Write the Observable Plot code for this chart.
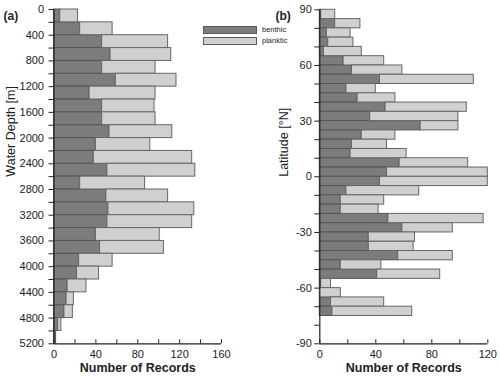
<!DOCTYPE html>
<html><head><meta charset="utf-8">
<script src="https://cdn.jsdelivr.net/npm/d3@7"></script>
<script src="https://cdn.jsdelivr.net/npm/@observablehq/plot@0.6"></script>
<style>
body{margin:0;background:#fff;font-family:"Liberation Sans",Arial,sans-serif;}
#wrap{position:relative;width:500px;height:383px;overflow:hidden;background:#fff;}
#pa,#pb{position:absolute;top:0;}
#pa{left:0}#pb{left:250px}
.sw{position:absolute;box-sizing:border-box;border:1px solid #5a5a5a;}
.lt{position:absolute;font-size:7.5px;color:#222;line-height:8px;}
</style></head>
<body><div id="wrap"><div id="pa"></div><div id="pb"></div>
<div id="legend"></div></div>
<script>
// ---- Panel (a): records by water depth (200 m bins) ----
const depthBinStart = [0,200,400,600,800,1000,1200,1400,1600,1800,2000,2200,2400,2600,2800,3000,3200,3400,3600,3800,4000,4200,4400,4600,4800,5000];
const benthicByDepth = [6,25,46,54,46,59,34,46,46,53,40,38,51,25,50,52,51,40,44,24,22,13,12,10,4,2];
const plankticByDepth = [17,31,63,58,51,58,63,50,51,60,52,94,84,62,59,82,81,61,61,32,21,18,7,8,3,0];
const depthTicks = [0,200,400,600,800,1000,1200,1400,1600,1800,2000,2200,2400,2600,2800,3000,3200,3400,3600,3800,4000,4200,4400,4600,4800,5000,5200];
const depthTickLabels = [0,400,800,1200,1600,2000,2400,2800,3200,3600,4000,4400,4800,5200];
const countTicksA = [0,20,40,60,80,100,120,140,160];
const countLabelsA = [0,40,80,120,160];

// ---- Panel (b): records by latitude (5° bins) ----
const latBinStart = [85,80,75,70,65,60,55,50,45,40,35,30,25,20,15,10,5,0,-5,-10,-15,-20,-25,-30,-35,-40,-45,-50,-55,-60,-65,-70,-75];
const benthicByLat = [1,11,5,6,3,17,23,43,19,27,47,36,72,30,23,22,57,48,43,19,15,15,49,59,35,35,56,15,41,1,0,8,9];
const plankticByLat = [10,18,17,18,27,29,36,67,21,27,58,63,27,24,25,40,49,72,77,52,31,27,68,36,33,32,39,29,45,7,15,38,57];
const latTicks = [-90,-80,-70,-60,-50,-40,-30,-20,-10,0,10,20,30,40,50,60,70,80,90];
const latTickLabels = [-90,-60,-30,0,30,60,90];
const countTicksB = [0,20,40,60,80,100,120];
const countLabelsB = [0,40,80,120];

const seriesNames = ["benthic","planktic"];
const DARK = "#7c7c7c", LIGHT = "#d0d0d0", EDGE = "#555555", AXIS = "#222222";

function rowsFor(starts, bw, benthic, planktic) {
  const rows = [];
  starts.forEach((s, i) => {
    rows.push({type: "benthic", y1: s, y2: s + bw, x1: 0, x2: benthic[i]});
    rows.push({type: "planktic", y1: s, y2: s + bw, x1: benthic[i], x2: benthic[i] + planktic[i]});
  });
  return rows;
}

function panel(o) {
  const H = 383, mt = o.mt, mb = 383 - 343.3;
  const innerH = H - mt - mb;
  return Plot.plot({
    width: 250, height: H,
    marginLeft: o.ml, marginRight: o.mr, marginTop: mt, marginBottom: mb,
    style: {fontSize: "11px", fontFamily: "'Liberation Sans', Arial, sans-serif", color: AXIS, background: "white", overflow: "visible"},
    x: {domain: o.xDomain},
    y: {domain: o.yDomain, reverse: o.reverse},
    marks: [
      Plot.rect(o.rows.filter(d => d.type === "benthic"), {x1: "x1", x2: "x2", y1: "y1", y2: "y2", fill: DARK, stroke: EDGE, strokeWidth: 1}),
      Plot.rect(o.rows.filter(d => d.type === "planktic"), {x1: "x1", x2: "x2", y1: "y1", y2: "y2", fill: LIGHT, stroke: "#666", strokeWidth: 1}),
      Plot.ruleX(o.xTicks, {x: d => d, insetTop: innerH - 4, stroke: AXIS}),
      Plot.axisX({ticks: o.xLabels, tickSize: 0, tickPadding: 6, label: null, tickFormat: d => String(d)}),
      Plot.axisY({ticks: o.yTicks, tickSize: 5, tickPadding: o.pad, label: null,
        tickFormat: d => o.yLabels.includes(d) ? String(d) : ""}),
      Plot.ruleX([0], {stroke: AXIS, strokeWidth: 1.2}),
      Plot.ruleY([o.yBottom], {stroke: AXIS, strokeWidth: 1.2}),
      Plot.text([o.yTitle], {text: d => d, frameAnchor: "left", dx: o.titleDx, rotate: -90, fontSize: 12.5, fill: AXIS}),
      Plot.text(["Number of Records"], {text: d => d, frameAnchor: "bottom", dy: 28, fontSize: 12.5, fontWeight: "bold", fill: AXIS}),
      Plot.text([o.tag], {text: d => d, frameAnchor: "top-left", textAnchor: "start", dx: o.tagDx, dy: 2, fontSize: 12, fontWeight: "bold", fill: AXIS})
    ]
  });
}

document.getElementById("pa").appendChild(panel({
  rows: rowsFor(depthBinStart, 200, benthicByDepth, plankticByDepth),
  xDomain: [0, 160], yDomain: [0, 5200], reverse: true, yBottom: 5200,
  xTicks: countTicksA, xLabels: countLabelsA, yTicks: depthTicks, yLabels: depthTickLabels,
  ml: 53.5, mr: 29, mt: 9, pad: 5, yTitle: "Water Depth [m]", titleDx: -43, tag: "(a)", tagDx: -50.5
}));
document.getElementById("pb").appendChild(panel({
  rows: rowsFor(latBinStart, 5, benthicByLat, plankticByLat),
  xDomain: [0, 120], yDomain: [-90, 90], reverse: false, yBottom: -90,
  xTicks: countTicksB, xLabels: countLabelsB, yTicks: latTicks, yLabels: latTickLabels,
  ml: 69.3, mr: 12.7, mt: 9.3, pad: 3, yTitle: "Latitude [°N]", titleDx: -36, tag: "(b)", tagDx: -44.3
}));

// legend
const legend = document.getElementById("legend");
const legendTops = [25.5, 37];
seriesNames.forEach((name, i) => {
  const sw = document.createElement("div");
  sw.className = "sw";
  Object.assign(sw.style, {left: "203px", top: legendTops[i] + "px", width: "54px", height: "8px", background: i === 0 ? DARK : LIGHT});
  legend.appendChild(sw);
  const t = document.createElement("div");
  t.className = "lt";
  t.textContent = name;
  Object.assign(t.style, {left: "262px", top: legendTops[i] + "px"});
  legend.appendChild(t);
});
</script></body></html>
